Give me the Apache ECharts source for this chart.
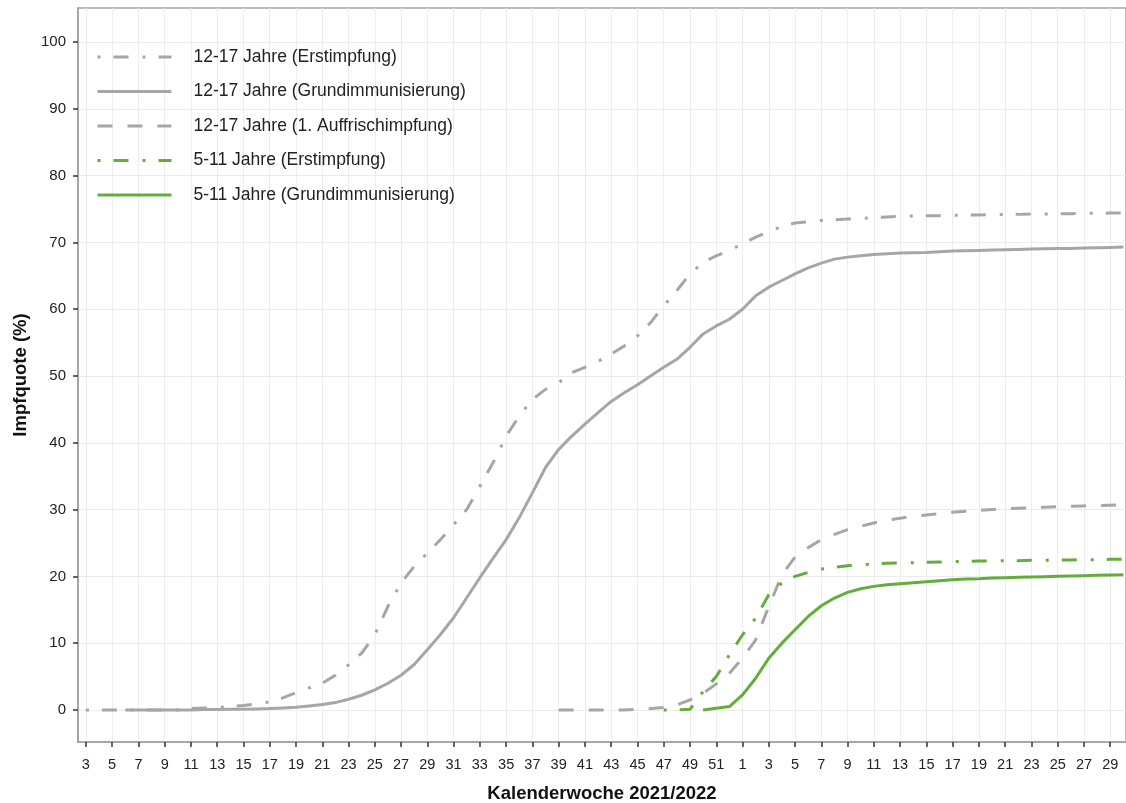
<!DOCTYPE html>
<html>
<head>
<meta charset="utf-8">
<script src="https://cdn.jsdelivr.net/npm/echarts@6/dist/echarts.min.js"></script>
<style>
html,body{margin:0;padding:0;background:#fff;}
#chart{width:1126px;height:803px;}
</style>
</head>
<body>
<div id="chart"></div>
<script>
// Calendar weeks: 2021 week 3..52, then 2022 week 1..30
const weeks = [
  '3','4','5','6','7','8','9','10','11','12','13','14','15','16','17','18','19','20',
  '21','22','23','24','25','26','27','28','29','30','31','32','33','34','35','36','37','38',
  '39','40','41','42','43','44','45','46','47','48','49','50','51','52',
  '1','2','3','4','5','6','7','8','9','10','11','12','13','14','15','16','17','18','19','20',
  '21','22','23','24','25','26','27','28','29','30'
];
const xTickIdx = [0,2,4,6,8,10,12,14,16,18,20,22,24,26,28,30,32,34,36,38,40,42,44,46,48,
  50,52,54,56,58,60,62,64,66,68,70,72,74,76,78];
const yTicks = [0,10,20,30,40,50,60,70,80,90,100];

const seriesNames = [
  '12-17 Jahre (Erstimpfung)',
  '12-17 Jahre (Grundimmunisierung)',
  '12-17 Jahre (1. Auffrischimpfung)',
  '5-11 Jahre (Erstimpfung)',
  '5-11 Jahre (Grundimmunisierung)'
];

const erst1217 = [
  0,0,0,0,0,0,0,0,
  0.2,0.3,0.35,0.5,0.65,0.9,1.2,1.8,2.6,3.3,
  4,5.2,6.75,8.5,11.25,15.5,19,21.5,23.5,25.5,
  27.75,30,33.5,37,41,44,46.5,48,49,50.5,
  51.3,52.2,53.3,54.5,56,58,60.5,62.8,65.3,67,68,68.8,
  69.8,70.8,71.6,72.4,72.9,73.1,73.3,73.4,73.5,73.6,
  73.7,73.8,73.9,73.95,74,74,74.05,74.1,74.1,74.15,
  74.2,74.2,74.25,74.25,74.3,74.3,74.35,74.35,74.4,74.4
];
const grund1217 = [
  null,null,null,
  0,0,0,0,0,0,0.05,0.05,0.1,
  0.1,0.15,0.2,0.3,0.4,0.6,
  0.8,1.1,1.6,2.2,3.0,4.0,5.2,6.8,9,11.3,
  13.8,16.8,19.8,22.7,25.5,28.8,32.5,36.3,39,41,
  42.8,44.5,46.2,47.5,48.7,50,51.3,52.5,54.3,56.3,57.5,58.5,
  60,62,63.3,64.3,65.3,66.2,66.9,67.5,67.8,68.0,
  68.2,68.3,68.4,68.45,68.5,68.6,68.7,68.75,68.8,68.85,
  68.9,68.95,69,69.05,69.1,69.1,69.15,69.2,69.25,69.3
];
const auff1217 = [
  null,null,null,null,null,null,null,null,null,null,null,null,
  null,null,null,null,null,null,null,null,null,null,null,null,
  null,null,null,null,null,null,null,null,null,null,null,null,
  0,0,0,0,0,0,0.1,0.2,
  0.35,0.75,1.5,2.5,3.9,5.5,
  7.75,10.5,15.5,20.2,22.9,24.3,25.5,26.3,27,27.5,
  28,28.4,28.7,29,29.2,29.4,29.6,29.75,29.9,30,
  30.1,30.2,30.25,30.35,30.45,30.5,30.55,30.6,30.65,30.7
];
const erst511 = [
  null,null,null,null,null,null,null,null,null,null,null,
  null,null,null,null,null,null,null,null,null,null,null,
  null,null,null,null,null,null,null,null,null,null,null,
  null,null,null,null,null,null,null,null,null,null,null,
  0,0,0.1,2.75,5,8.25,
  11.25,13.75,17.25,19,20,20.6,21.1,21.35,21.6,21.75,
  21.85,21.95,22,22.05,22.1,22.15,22.2,22.25,22.3,22.3,
  22.35,22.35,22.4,22.4,22.45,22.45,22.5,22.5,22.55,22.55
];
const grund511 = [
  null,null,null,null,null,null,null,null,null,null,null,null,
  null,null,null,null,null,null,null,null,null,null,null,null,
  null,null,null,null,null,null,null,null,null,null,null,null,
  null,null,null,null,null,null,null,null,null,null,null,
  0,0.25,0.5,
  2.25,4.75,7.75,10,12,14,15.6,16.75,17.6,18.15,
  18.5,18.75,18.9,19.05,19.2,19.35,19.5,19.6,19.65,19.75,
  19.8,19.85,19.9,19.95,20,20.05,20.1,20.15,20.2,20.25
];

const GREY = '#a6a6a6';
const GREEN = '#63ad3d';
const DOTDASH = [3, 13, 15, 14];
const DASH = [15, 15];
const FONT = '"Liberation Sans", Arial, sans-serif';

function pairs(arr) {
  return arr.map((v, i) => [i, v]);
}
function mkSeries(name, arr, color, type) {
  return {
    name: name,
    type: 'line',
    data: pairs(arr),
    showSymbol: false,
    symbol: 'none',
    smooth: false,
    connectNulls: false,
    lineStyle: { color: color, width: 3, type: type, cap: 'butt' },
    itemStyle: { color: color },
    emphasis: { disabled: true },
    animation: false
  };
}

const chart = echarts.init(document.getElementById('chart'), null, { renderer: 'canvas' });
chart.setOption({
  backgroundColor: '#ffffff',
  animation: false,
  textStyle: { fontFamily: FONT },
  grid: {
    left: 78, right: 0, top: 8, bottom: 61,
    outerBoundsMode: 'none',
    containLabel: false,
    show: true, borderColor: GREY, borderWidth: 1.5, backgroundColor: '#ffffff'
  },
  legend: {
    orient: 'vertical',
    left: 91, top: 43,
    itemWidth: 74, itemHeight: 14, itemGap: 16.5,
    itemStyle: { opacity: 0 },
    lineStyle: { width: 3 },
    textStyle: { fontSize: 17.5, color: '#222', fontFamily: FONT, padding: [0, 0, 0, 17] },
    data: seriesNames
  },
  xAxis: {
    type: 'value',
    min: -0.6, max: 79.2,
    name: 'Kalenderwoche 2021/2022',
    nameLocation: 'middle',
    nameGap: 42,
    nameTextStyle: { fontSize: 18.5, fontWeight: 'bold', color: '#111', fontFamily: FONT },
    axisLine: { show: true, onZero: false, lineStyle: { color: GREY, width: 2 } },
    axisTick: { show: true, customValues: xTickIdx, length: 5, lineStyle: { color: '#333', width: 1.5 } },
    axisLabel: {
      customValues: xTickIdx,
      formatter: v => weeks[Math.round(v)],
      fontSize: 14.5, color: '#222', margin: 15, fontFamily: FONT
    },
    splitLine: { show: true, lineStyle: { color: '#ececec', width: 1 } }
  },
  yAxis: {
    type: 'value',
    min: -4.8, max: 105.1,
    name: 'Impfquote (%)',
    nameLocation: 'middle',
    nameGap: 48,
    nameRotate: 90,
    nameTextStyle: { fontSize: 18.5, fontWeight: 'bold', color: '#111', fontFamily: FONT },
    axisLine: { show: true, onZero: false, lineStyle: { color: GREY, width: 2 } },
    axisTick: { show: true, customValues: yTicks, length: 5, lineStyle: { color: '#333', width: 1.5 } },
    axisLabel: { customValues: yTicks, fontSize: 15, color: '#222', margin: 12, fontFamily: FONT },
    splitLine: { show: true, lineStyle: { color: '#ececec', width: 1 } }
  },
  series: [
    mkSeries(seriesNames[0], erst1217, GREY, DOTDASH),
    mkSeries(seriesNames[1], grund1217, GREY, 'solid'),
    mkSeries(seriesNames[2], auff1217, GREY, DASH),
    mkSeries(seriesNames[3], erst511, GREEN, DOTDASH),
    mkSeries(seriesNames[4], grund511, GREEN, 'solid')
  ]
});
</script>
</body>
</html>
